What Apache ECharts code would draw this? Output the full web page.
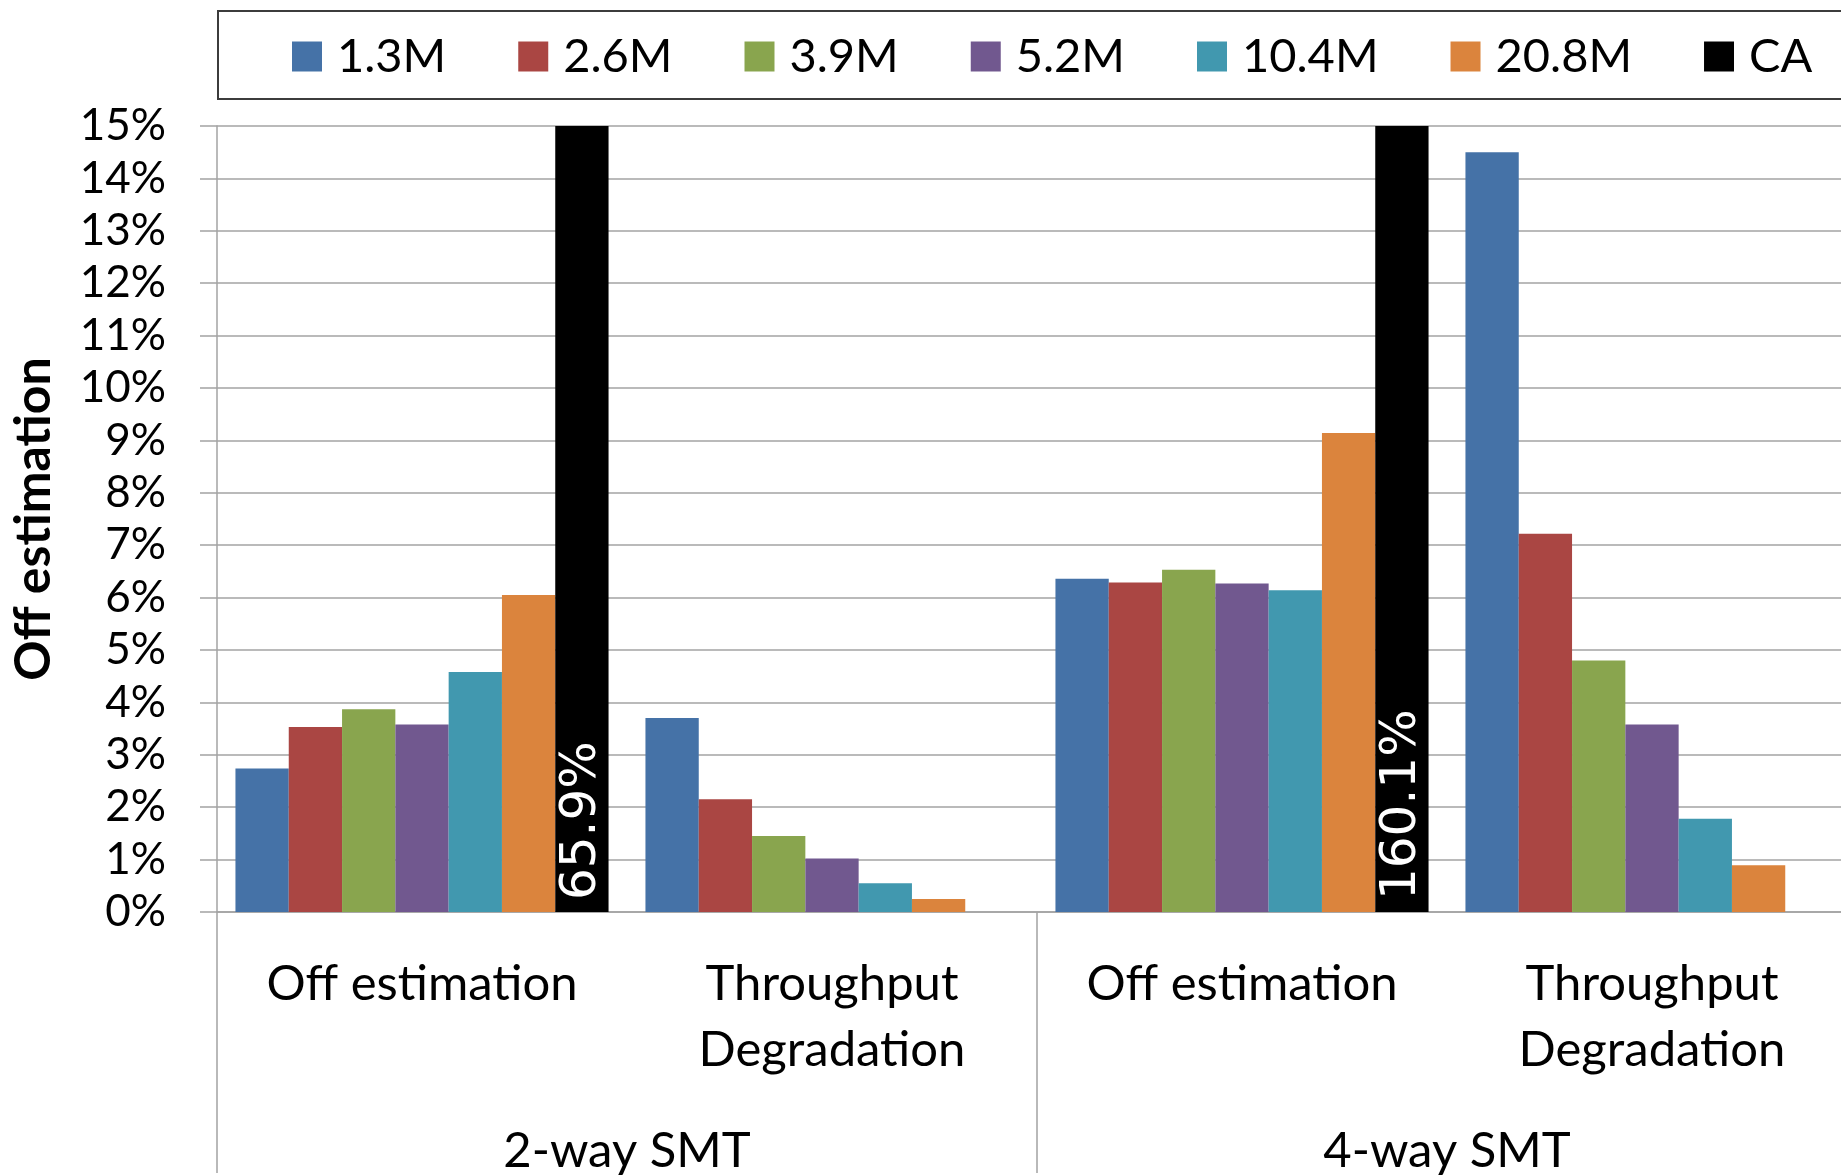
<!DOCTYPE html>
<html>
<head>
<meta charset="utf-8">
<title>Off estimation</title>
<script src="https://cdn.jsdelivr.net/npm/echarts@6/dist/echarts.min.js"></script>
<style>
  html, body { margin: 0; padding: 0; background: #fff; }
  #chart { width: 1841px; height: 1175px; }
</style>
</head>
<body>
<div id="chart"></div>
<script>
// Inner categories (metric) and outer groups (SMT mode)
const categories = ['Off estimation', 'Throughput\nDegradation', 'Off estimation', 'Throughput\nDegradation'];
const groups = ['2-way SMT', '4-way SMT'];
const seriesNames = ['1.3M', '2.6M', '3.9M', '5.2M', '10.4M', '20.8M', 'CA'];
const yTicks = { min: 0, max: 15, interval: 1 };

// Values in percent, one entry per inner category
const v13  = [2.74, 3.70, 6.36, 14.50];
const v26  = [3.53, 2.15, 6.29, 7.22];
const v39  = [3.87, 1.45, 6.53, 4.80];
const v52  = [3.58, 1.02, 6.27, 3.58];
const v104 = [4.58, 0.55, 6.14, 1.78];
const v208 = [6.05, 0.25, 9.14, 0.89];
const vCA  = [65.9, null, 160.1, null];

const seriesValues = [v13, v26, v39, v52, v104, v208, vCA];
const colors = ['#4572A7', '#AA4643', '#89A54E', '#71588F', '#4198AF', '#DB843D', '#000000'];

const FONT = 'Lato, "Open Sans", sans-serif';
const GRID_GRAY = '#a3a3a3';

const chart = echarts.init(document.getElementById('chart'), null, { renderer: 'canvas' });

const series = seriesNames.map((name, i) => {
  const s = {
    name: name,
    type: 'bar',
    data: seriesValues[i],
    barGap: '0%',
    barCategoryGap: '9%',
    itemStyle: { color: colors[i] },
    emphasis: { disabled: true },
    animation: false
  };
  if (name === 'CA') {
    // Values far above the axis range: state them on the bar
    s.label = {
      show: true,
      position: 'insideBottom',
      distance: 12,
      rotate: 90,
      align: 'left',
      verticalAlign: 'middle',
      formatter: p => p.value + '%',
      color: '#ffffff',
      fontFamily: '"DejaVu Sans", sans-serif',
      fontSize: 50
    };
  }
  return s;
});

const option = {
  animation: false,
  backgroundColor: '#ffffff',
  color: colors,
  // The plot runs slightly past the right edge of the canvas
  grid: {
    left: 217, top: 126, width: 1640, height: 786,
    containLabel: false,
    outerBoundsMode: 'none'
  },
  graphic: [{
    type: 'rect',
    z: 0,
    shape: { x: 218, y: 11, width: 1640, height: 88 },
    style: { fill: 'none', stroke: '#3c3c3c', lineWidth: 2 }
  }],
  legend: {
    data: seriesNames,
    left: 287,
    top: 28,
    itemWidth: 30,
    itemHeight: 30,
    itemGap: 72,
    icon: 'rect',
    selectedMode: false,
    textStyle: {
      fontFamily: FONT,
      fontSize: 47,
      color: '#000',
      lineHeight: 30,
      padding: [0, 0, 0, 10]
    }
  },
  xAxis: [{
    type: 'category',
    data: categories,
    position: 'bottom',
    axisLine: { show: true, lineStyle: { color: GRID_GRAY, width: 1.5 } },
    axisTick: { show: false },
    splitLine: { show: false },
    axisLabel: {
      margin: 39,
      fontFamily: FONT,
      fontSize: 49,
      lineHeight: 66,
      color: '#000',
      interval: 0
    }
  }, {
    type: 'category',
    data: groups,
    position: 'bottom',
    axisLine: { show: false },
    axisTick: { show: true, length: 261, lineStyle: { color: GRID_GRAY, width: 1.5 } },
    splitLine: { show: false },
    axisLabel: {
      margin: 214,
      fontFamily: FONT,
      fontSize: 49,
      lineHeight: 50,
      color: '#000'
    }
  }],
  yAxis: {
    type: 'value',
    min: yTicks.min,
    max: yTicks.max,
    interval: yTicks.interval,
    name: 'Off estimation',
    nameLocation: 'middle',
    nameGap: 158,
    nameRotate: 90,
    nameTextStyle: {
      fontFamily: FONT,
      fontSize: 50,
      fontWeight: 'bold',
      color: '#000'
    },
    axisLine: { show: true, lineStyle: { color: GRID_GRAY, width: 1.5 } },
    axisTick: { show: true, length: 17, lineStyle: { color: GRID_GRAY, width: 1.5 } },
    splitLine: { show: true, lineStyle: { color: GRID_GRAY, width: 1.5 } },
    axisLabel: {
      margin: 51,
      formatter: '{value}%',
      fontFamily: FONT,
      fontSize: 44,
      color: '#000'
    }
  },
  series: series
};

chart.setOption(option);
</script>
</body>
</html>
